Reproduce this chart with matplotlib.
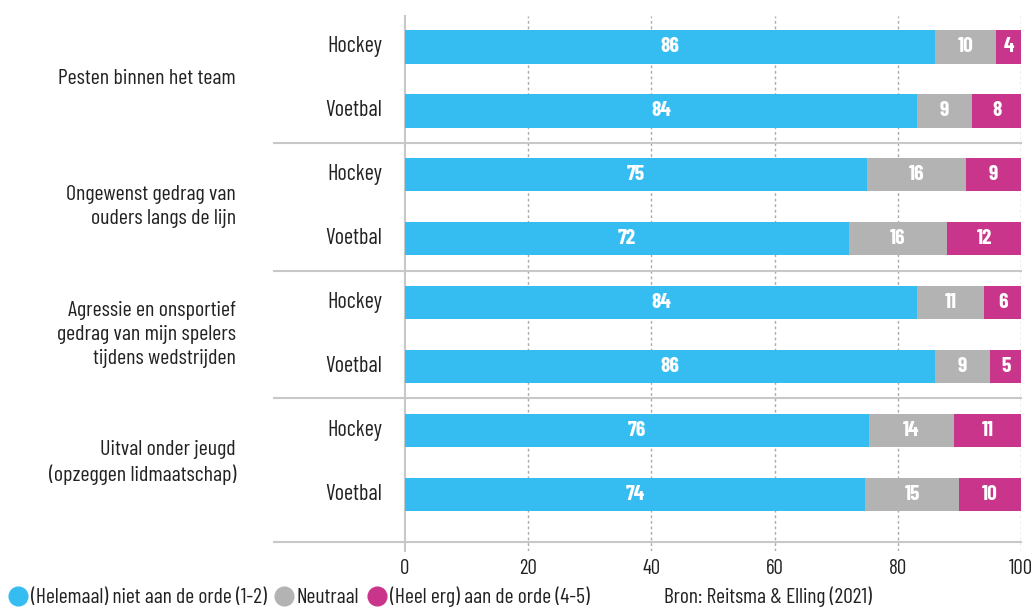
import numpy as np
import matplotlib.pyplot as plt
from matplotlib.lines import Line2D

plt.rcParams['font.family'] = ['Barlow Condensed', 'DejaVu Sans']
plt.rcParams['font.stretch'] = 'condensed'

# Data
groups = ['Pesten binnen het team',
          'Ongewenst gedrag van\nouders langs de lijn',
          'Agressie en onsportief\ngedrag van mijn spelers\ntijdens wedstrijden',
          'Uitval onder jeugd\n(opzeggen lidmaatschap)']
sports = ['Hockey', 'Voetbal']
niet_aan_orde = [86, 84, 75, 72, 84, 86, 76, 74]
neutraal = [10, 9, 16, 16, 11, 9, 14, 15]
aan_orde = [4, 8, 9, 12, 6, 5, 11, 10]
ticks = [0, 20, 40, 60, 80, 100]
legend_labels = ['(Helemaal) niet aan de orde (1-2)', 'Neutraal', '(Heel erg) aan de orde (4-5)']
source = 'Bron: Reitsma & Elling (2021)'

colors = ['#35bdf2', '#b3b3b3', '#c9358a']
txt = '#222222'

fig = plt.figure(figsize=(10.35, 6.09), dpi=100)
W, H = 1035, 609
# axes: x 405..1021, y 16..551 (pixels from top)
ax = fig.add_axes([405 / W, 1 - 551 / H, 616 / W, 535 / H])

series = np.array([niet_aan_orde, neutraal, aan_orde], dtype=float)
totals = series.sum(axis=0)
shares = series / totals * 100
ypos = np.arange(len(niet_aan_orde))

left = np.zeros(len(ypos))
for k in range(3):
    ax.barh(ypos, shares[k], left=left, height=0.52, color=colors[k], zorder=3)
    for i, y in enumerate(ypos):
        ax.text(left[i] + shares[k][i] / 2, y, f'{int(series[k][i])}', ha='center', va='center',
                color='white', fontsize=15.5, fontweight='bold', zorder=4)
    left += shares[k]

ax.set_xlim(0, 100)
ax.set_ylim(7.887, -0.485)

# grid
for t in ticks[1:]:
    ax.axvline(t, color='#aaaaaa', linestyle=(0, (2, 2)), linewidth=1, zorder=1)

for s in ['top', 'right', 'bottom']:
    ax.spines[s].set_visible(False)
ax.spines['left'].set_color('#c8c8c8')
ax.spines['left'].set_linewidth(1.5)

ax.set_xticks(ticks)
ax.set_xticklabels([str(t) for t in ticks], fontsize=15, color=txt)
ax.tick_params(axis='x', length=0, pad=6)
ax.set_yticks([])

# separator lines
xl = (274 - 405) / 616
for yv in [1.5, 3.5, 5.5, 7.747]:
    ax.plot([xl, 1.0], [yv, yv], transform=ax.get_yaxis_transform(), color='#c8c8c8',
            linewidth=1.5, clip_on=False, zorder=2)

# sport labels
for i, y in enumerate(ypos):
    ax.text((382 - 405) / 616, y, sports[i % 2], transform=ax.get_yaxis_transform(),
            ha='right', va='center', fontsize=16, color=txt)

# group labels
for g, name in enumerate(groups):
    ax.text((236 - 405) / 616, 2 * g + 0.5, name, transform=ax.get_yaxis_transform(),
            ha='right', va='center', fontsize=15.8, color=txt, linespacing=1.35)

# legend
handles = [Line2D([], [], marker='o', linestyle='', markersize=13.5, color=c) for c in colors]
fig.legend(handles, legend_labels, loc='center left', bbox_to_anchor=(0.008, 1 - 597 / H),
           ncol=3, frameon=False, fontsize=15.5, handletextpad=0.15, columnspacing=0.35,
           borderaxespad=0, borderpad=0, handlelength=0.9, labelcolor=txt)
fig.text(664 / W, 1 - 597 / H, source, ha='left', va='center', fontsize=15.5, color=txt)

fig.savefig('out.png', dpi=100)
